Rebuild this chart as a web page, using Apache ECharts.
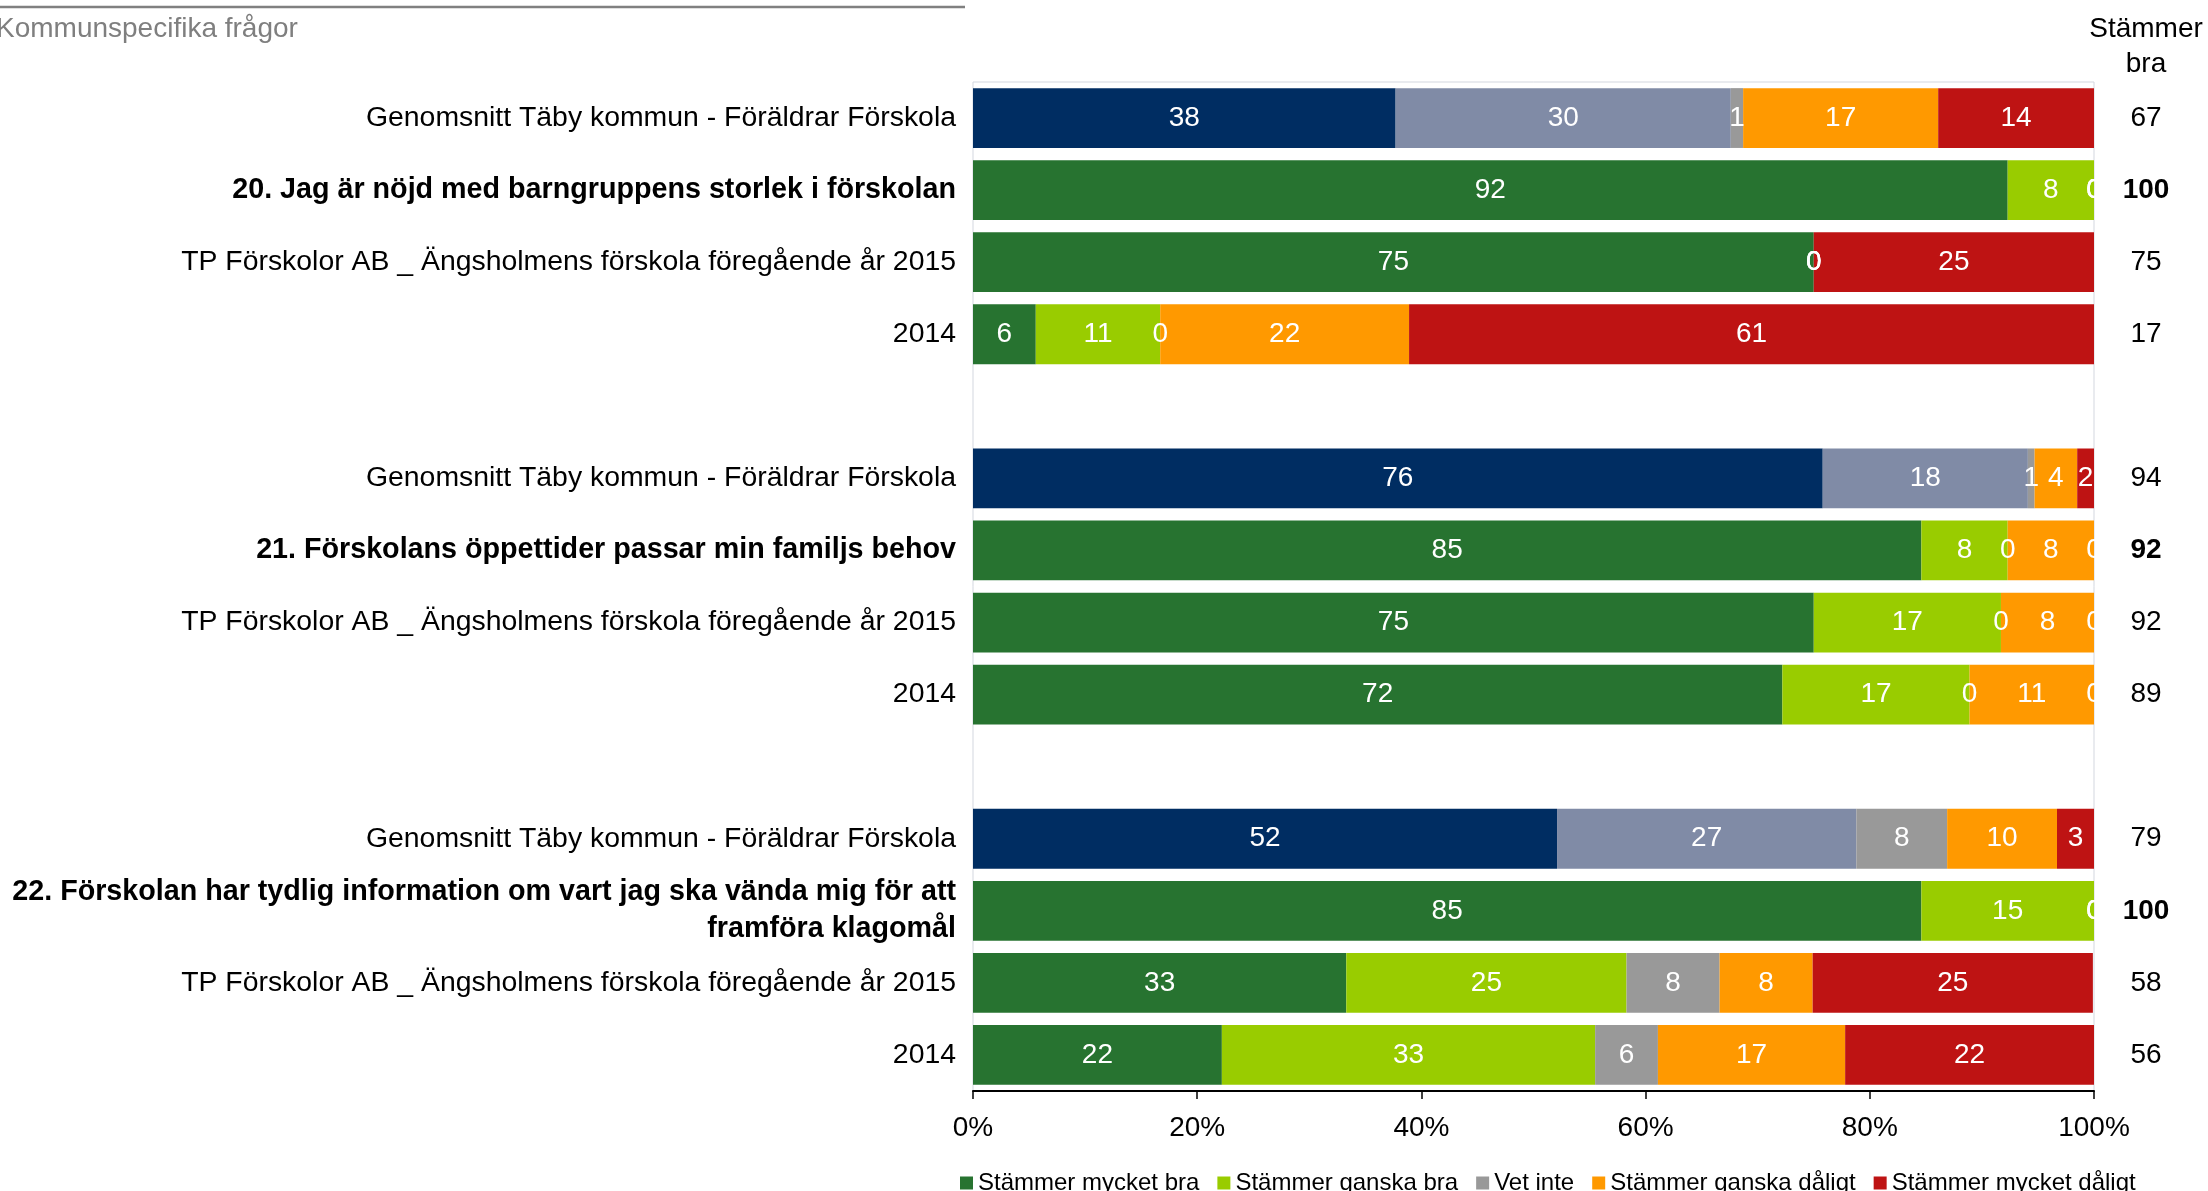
<!DOCTYPE html>
<html>
<head>
<meta charset="utf-8">
<script src="https://cdn.jsdelivr.net/npm/echarts@6/dist/echarts.min.js"></script>
<style>
  html, body { margin: 0; padding: 0; background: #fff; }
  #chart { width: 2208px; height: 1191px; }
</style>
</head>
<body>
<div id="chart"></div>
<script>
// rader uppifrån och ned, tomma rader = mellanrum mellan frågorna
const categories = [
  'Genomsnitt Täby kommun - Föräldrar Förskola',
  '20. Jag är nöjd med barngruppens storlek i förskolan',
  'TP Förskolor AB _ Ängsholmens förskola föregående år 2015',
  '2014',
  '',
  'Genomsnitt Täby kommun - Föräldrar Förskola',
  '21. Förskolans öppettider passar min familjs behov',
  'TP Förskolor AB _ Ängsholmens förskola föregående år 2015',
  '2014',
  '',
  'Genomsnitt Täby kommun - Föräldrar Förskola',
  '22. Förskolan har tydlig information om vart jag ska vända mig för att\nframföra klagomål',
  'TP Förskolor AB _ Ängsholmens förskola föregående år 2015',
  '2014'
];

const seriesNames = ['Stämmer mycket bra', 'Stämmer ganska bra', 'Vet inte', 'Stämmer ganska dåligt', 'Stämmer mycket dåligt'];

const mycketBra    = [37.7, 92.3, 75, 5.6, null, 75.8, 84.6, 75, 72.2, null, 52.1, 84.6, 33.3, 22.2];
const ganskaBra    = [29.9, 7.7, 0, 11.1, null, 18.3, 7.7, 16.7, 16.7, null, 26.7, 15.4, 25, 33.3];
const vetInte      = [1.1, 0, 0, 0, null, 0.6, 0, 0, 0, null, 8.1, 0, 8.3, 5.6];
const ganskaDaligt = [17.4, 0, 0, 22.2, null, 3.8, 7.7, 8.3, 11.1, null, 9.8, 0, 8.3, 16.7];
const mycketDaligt = [13.9, 0, 25, 61.1, null, 1.5, 0, 0, 0, null, 3.3, 0, 25, 22.2];

const stammerBra = [67, 100, 75, 17, null, 94, 92, 92, 89, null, 79, 100, 58, 56];

const xTicks = [0, 20, 40, 60, 80, 100];

const boldRows = [1, 6, 11];
const avgRows = [0, 5, 10];

const colors    = ['#277330', '#99CC00', '#999999', '#FF9900', '#BE1313'];
const avgColors = ['#002D62', '#808BA6', '#999999', '#FF9900', '#BE1313'];

const FONT = '"Liberation Sans", Arial, sans-serif';

const allValues = [mycketBra, ganskaBra, vetInte, ganskaDaligt, mycketDaligt];

const series = allValues.map((vals, s) => ({
  name: seriesNames[s],
  type: 'bar',
  stack: 'total',
  barWidth: '83%',
  itemStyle: { color: colors[s] },
  label: {
    show: true,
    position: 'inside',
    color: '#fff',
    fontFamily: FONT,
    fontSize: 28,
    formatter: p => (p.value == null || p.value === '-') ? '' : String(Math.round(p.value))
  },
  data: vals.map((v, i) => {
    if (v == null) return '-';
    if (avgRows.includes(i)) return { value: v, itemStyle: { color: avgColors[s] } };
    return v;
  })
}));

const chart = echarts.init(document.getElementById('chart'));
chart.setOption({
  animation: false,
  textStyle: { fontFamily: FONT },
  grid: {
    left: 973, right: 114, top: 82, bottom: 100,
    show: true, borderColor: '#D3D7DF', borderWidth: 1,
    outerBoundsMode: 'none'
  },
  legend: {
    left: 955, top: 1166,
    itemWidth: 13, itemHeight: 13, itemGap: 18,
    icon: 'rect',
    textStyle: { fontSize: 24, color: '#000', fontFamily: FONT },
    data: seriesNames
  },
  xAxis: {
    type: 'value', min: 0, max: 100, interval: 20,
    axisLine: { show: true, lineStyle: { color: '#000', width: 2 } },
    axisTick: { show: true, length: 8, lineStyle: { color: '#000', width: 1.5 } },
    axisLabel: { fontSize: 28, color: '#000', margin: 23, formatter: v => xTicks.includes(v) ? v + '%' : '' },
    splitLine: { show: false }
  },
  yAxis: [{
    type: 'category',
    inverse: true,
    data: categories,
    axisLine: { show: false },
    axisTick: { show: false },
    axisLabel: {
      margin: 17,
      fontSize: 28.4,
      color: '#000',
      lineHeight: 37,
      align: 'right',
      interval: 0,
      formatter: (v, i) => boldRows.includes(i)
        ? v.split('\n').map(l => '{b|' + l + '}').join('\n')
        : v,
      rich: { b: { fontWeight: 'bold', fontSize: 28.7, color: '#000', lineHeight: 37, fontFamily: FONT } }
    }
  }, {
    type: 'category',
    inverse: true,
    position: 'right',
    data: stammerBra.map(v => v == null ? '' : String(v)),
    axisLine: { show: false },
    axisTick: { show: false },
    axisLabel: {
      margin: 52,
      align: 'center',
      fontSize: 28,
      color: '#000',
      interval: 0,
      formatter: (v, i) => boldRows.includes(i) ? '{b|' + v + '}' : v,
      rich: { b: { fontWeight: 'bold', fontSize: 28, color: '#000', fontFamily: FONT } }
    }
  }],
  graphic: [
    { type: 'line', shape: { x1: 0, y1: 7, x2: 965, y2: 7 }, style: { stroke: '#808080', lineWidth: 2.5 } },
    { type: 'text', left: -4, top: 15, style: { text: 'Kommunspecifika frågor', fontSize: 28, fill: '#7F7F7F', fontFamily: FONT } },
    { type: 'text', x: 2146, y: 29, style: { text: 'Stämmer', fontSize: 28, fill: '#000', fontFamily: FONT, align: 'center', verticalAlign: 'middle' } },
    { type: 'text', x: 2146, y: 64, style: { text: 'bra', fontSize: 28, fill: '#000', fontFamily: FONT, align: 'center', verticalAlign: 'middle' } }
  ],
  series: series
});
</script>
</body>
</html>
